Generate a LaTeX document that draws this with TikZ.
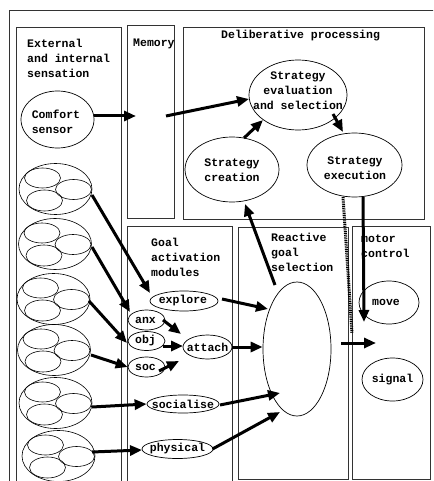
\documentclass[tikz,border=0pt]{standalone}
\usepackage{fontspec}
\setmainfont{Liberation Mono}
\usetikzlibrary{arrows.meta,shapes.geometric}
\begin{document}
\begin{tikzpicture}[x=1pt,y=-1pt,
  txt/.style={font=\fontsize{11.5}{15}\selectfont\bfseries, inner sep=0pt},
  title/.style={txt, align=left, anchor=north west},
  ell/.style={draw, ellipse, line width=0.7pt, inner sep=0pt},
  sell/.style={draw, ellipse, line width=0.6pt, inner sep=0pt},
  panel/.style={draw=black!80, line width=0.9pt},
  arr/.style={line width=3pt, -{Triangle[length=12pt,width=10pt]}},
  sgroup/.pic={
    \node[sell, minimum width=73, minimum height=51] (-big) at (0,0) {};
    \node[sell, minimum width=36, minimum height=20] (-a) at (-13,-11) {};
    \node[sell, minimum width=36, minimum height=21] (-b) at (-11,11.5) {};
    \node[sell, minimum width=36, minimum height=20] (-c) at (18,0.5) {};
  }
]
\useasboundingbox (0,0) rectangle (433,481);
\clip (0,0) rectangle (433,481);

% panels
\draw[panel] (9.5,10) rectangle (445,495);
\draw[panel] (16.5,27) rectangle (121,495);
\draw[panel] (127,25) rectangle (174,218);
\draw[panel] (183,27) rectangle (424,219);
\draw[panel] (127.5,226) rectangle (232.5,495);
\draw[panel] (238,227) rectangle (348,479);
\draw[panel] (352,226) rectangle (430,479);

% titles
\node[title] (t-sens) at (27,38.5) {External\\and internal\\sensation};
\node[title] (t-mem) at (133,38.5) {Memory};
\node[title] (t-delib) at (221,29.5) {Deliberative processing};
\node[title] (t-goal) at (151,237.5) {Goal\\activation\\modules};
\node[title] (t-react) at (271,232.5) {Reactive\\goal\\selection};
\node[title] (t-motor) at (361,234.5) {motor\\control};

% ellipses
\node[ell, minimum width=73, minimum height=57] (comfort) at (57.5,119.5) {};
\node[txt, align=left] (comfort-t) at (56,122) {Comfort\\sensor};
\node[ell, minimum width=98, minimum height=70] (eval) at (298,95) {};
\node[txt, align=center] (eval-t) at (298,90.5) {Strategy\\evaluation\\and selection};
\node[ell, minimum width=94, minimum height=65] (creation) at (232,169.5) {};
\node[txt, align=center] (creation-t) at (232,170.5) {Strategy\\creation};
\node[ell, minimum width=95, minimum height=64] (exec) at (354.5,165) {};
\node[txt, align=center] (exec-t) at (355,168.5) {Strategy\\execution};
\node[ell, minimum width=68, minimum height=134] (reactive) at (297,349) {};
\node[ell, minimum width=60, minimum height=43] (move) at (389,302.5) {};
\node[txt] (move-t) at (386,302) {move};
\node[ell, minimum width=61, minimum height=43] (signal) at (392.5,379.5) {};
\node[txt] (signal-t) at (392.5,379.5) {signal};
\node[ell, minimum width=68, minimum height=20] (explore) at (184,301) {};
\node[txt] (explore-t) at (183,301) {explore};
\node[ell, minimum width=37, minimum height=20] (anx) at (146.5,320) {};
\node[txt] (anx-t) at (145.5,320) {anx};
\node[ell, minimum width=37, minimum height=19] (obj) at (146.5,341) {};
\node[txt] (obj-t) at (145.5,341) {obj};
\node[ell, minimum width=37, minimum height=20] (soc) at (146.5,367) {};
\node[txt] (soc-t) at (145.5,367) {soc};
\node[ell, minimum width=49, minimum height=24] (attach) at (207.5,347) {};
\node[txt] (attach-t) at (207.5,347) {attach};
\node[ell, minimum width=72, minimum height=18] (socialise) at (183,404) {};
\node[txt] (socialise-t) at (183,404) {socialise};
\node[ell, minimum width=71, minimum height=19] (physical) at (177.5,449) {};
\node[txt] (physical-t) at (177.5,449) {physical};

% sensor groups
\pic (g1) at (55.5,189) {sgroup};
\pic (g2) at (55,244) {sgroup};
\pic (g3) at (53.5,299) {sgroup};
\pic (g4) at (54,350) {sgroup};
\pic (g5) at (55.5,403) {sgroup};
\pic (g6) at (58.5,456) {sgroup};

% free ends
\coordinate (memin) at (136,116);
\coordinate (memout) at (166,116);
\coordinate (dotend) at (352,333);
\coordinate (motorin) at (376,343);
\coordinate (reactout) at (341,343);

% connectors
\draw[arr] ([shift={(36.5,-3.5)}]comfort.center) -- (memin);
\draw[arr] (memout) -- ([shift={(-49,4)}]eval.center);
\draw[arr] ([shift={(12,-31.5)}]creation.center) -- ([shift={(-35,25)}]eval.center);
\draw[arr] ([shift={(35,19)}]eval.center) -- ([shift={(-11.5,-33)}]exec.center);
\draw[arr] ([shift={(-22,-64)}]reactive.center) -- ([shift={(13,34.5)}]creation.center);
\draw[arr] ([shift={(8.5,32)}]exec.center) -- ([shift={(-25,19.5)}]move.center);
\draw[line width=3pt, dash pattern=on 1pt off 0.8pt] ([shift={(-11.5,32)}]exec.center) -- (dotend);
\draw[arr] (reactout) -- (motorin);

\draw[arr] ([shift={(38,-2)}]explore.center) -- ([shift={(-29,-40)}]reactive.center);
\draw[arr] (attach.east) -- (reactive.west |- attach.east);
\draw[arr] ([shift={(37,1)}]socialise.center) -- ([shift={(-17,44)}]reactive.center);
\draw[arr] ([shift={(35,0)}]physical.center) -- ([shift={(-17,63)}]reactive.center);

\draw[arr] ([shift={(16.5,0)}]anx.center) -- ([shift={(-26.5,-13)}]attach.center);
\draw[arr] ([shift={(16.5,5)}]obj.center) -- ([shift={(-24.5,-1)}]attach.center);
\draw[arr] ([shift={(12.5,4)}]soc.center) -- ([shift={(-28.5,14)}]attach.center);

\draw[arr] ([shift={(36.5,6)}]g1-big.center) -- ([shift={(-34,-8)}]explore.center);
\draw[arr] ([shift={(37,3)}]g2-big.center) -- ([shift={(-16.5,-8)}]anx.center);
\draw[arr] ([shift={(35.5,2)}]g3-big.center) -- ([shift={(-19.5,2)}]obj.center);
\draw[arr] ([shift={(37,5)}]g4-big.center) -- (soc.west);
\draw[arr] ([shift={(36.5,4)}]g5-big.center) -- (socialise.west);
\draw[arr] ([shift={(33.5,-4)}]g6-big.center) -- ([shift={(-35.5,1)}]physical.center);
\end{tikzpicture}
\end{document}
